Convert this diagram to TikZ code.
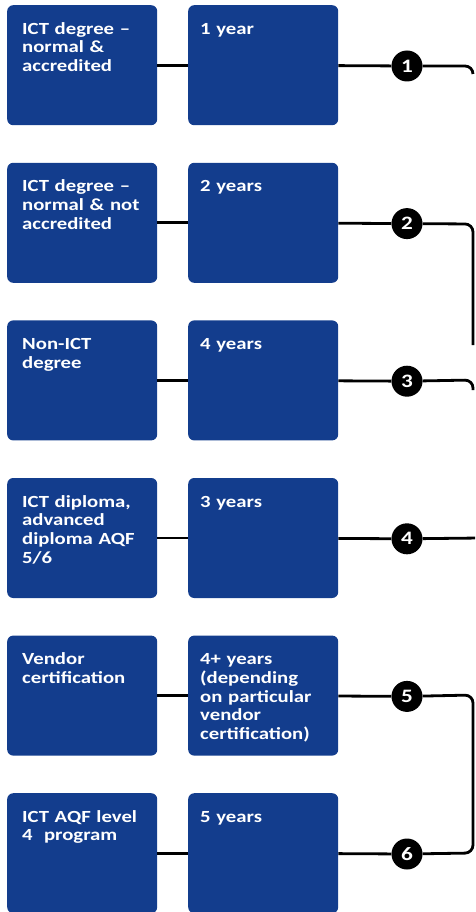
\documentclass[tikz,border=0pt]{standalone}
\usepackage{fontspec}
\newfontfamily\cellfont[FakeStretch=1.22,Ligatures=TeX]{Carlito}
\usetikzlibrary{positioning}
\definecolor{boxblue}{RGB}{19,61,141}

\tikzset{
  cellbox/.style={fill=boxblue, rounded corners=6pt, minimum width=150pt,
    minimum height=120pt, inner sep=0pt, anchor=north west},
  celltext/.style={anchor=north west, inner sep=0pt, text width=140pt,
    align=left, text=white, font=\cellfont\bfseries\fontsize{17}{18.7}\selectfont},
  stepnum/.style={circle, fill=black, minimum size=31pt, inner sep=0pt,
    text=white, font=\cellfont\bfseries\fontsize{19}{20}\selectfont},
  link/.style={line width=2.8pt, black, rounded corners=8pt},
}

\begin{document}
\begin{tikzpicture}[x=1pt, y=-1pt]
  \useasboundingbox (0,0) rectangle (475,912);
  \clip (0,0) rectangle (475,912);
  % rows: qualification, duration, step number
  \foreach \i/\qual/\dur in {
      1/{ICT degree –\\normal \&\\accredited}/{1 year},
      2/{ICT degree –\\normal \& not\\accredited}/{2 years},
      3/{Non-ICT\\degree}/{4 years},
      4/{ICT diploma,\\advanced\\diploma AQF\\5/6}/{3 years},
      5/{Vendor\\certification}/{4+ years\\(depending\\on particular\\vendor\\certification)},
      6/{ICT AQF level\\4\ \ program}/{5 years}} {
    \pgfmathsetmacro{\rowy}{5+(\i-1)*157.6}
    \node[cellbox] (q\i) at (7,\rowy) {};
    \node[cellbox] (d\i) at (188,\rowy) {};
    \node[celltext] (qt\i) at ([shift={(15pt,-16pt)}]q\i.north west) {\strut\qual};
    \node[celltext] (dt\i) at ([shift={(12pt,-16pt)}]d\i.north west) {\strut\dur};
    \node[stepnum] (n\i) at (407,\rowy+61) {\i};
    \draw[link] (q\i) -- (d\i);
    \draw[link] (d\i) -- (n\i);
  }
  % right edge
  \coordinate (e1) at (473,66);  \coordinate (f1) at (473,74);
  \coordinate (e2) at (473,224); \coordinate (f2) at (473,345);
  \coordinate (e3) at (473,380); \coordinate (f3) at (473,390);
  \coordinate (e4) at (480,538);
  \coordinate (e5) at (473,695); \coordinate (e6) at (473,853);
  \draw[link] (n1) -- (e1) -- (f1);
  \draw[link] (n2) -- (e2) -- (f2);
  \draw[link] (n3) -- (e3) -- (f3);
  \draw[link] (n4) -- (e4);
  \draw[link] (n5) -- (e5) -- (e6) -- (n6);
\end{tikzpicture}
\end{document}
